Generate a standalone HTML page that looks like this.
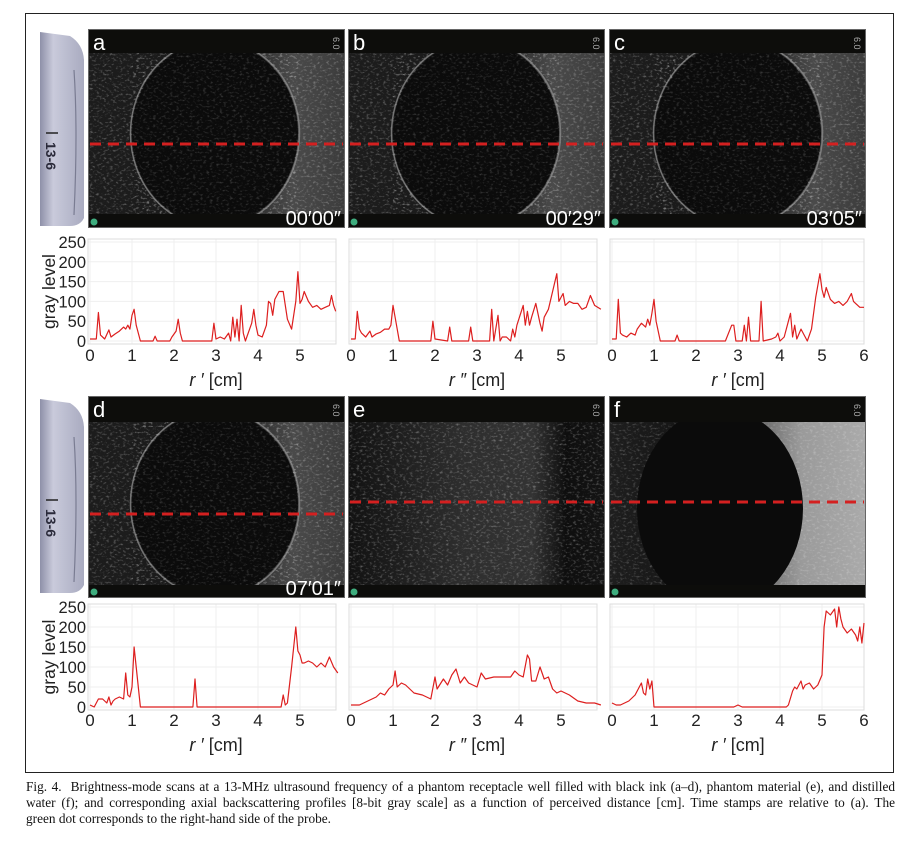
<!DOCTYPE html>
<html><head><meta charset="utf-8">
<style>
html,body{margin:0;padding:0;background:#fff;}
body{width:907px;height:841px;position:relative;overflow:hidden;font-family:"Liberation Sans",sans-serif;}
#fig{position:absolute;left:0;top:0;}
#caption{position:absolute;left:26px;top:779px;width:869px;font-family:"Liberation Serif",serif;font-size:13.3px;line-height:16px;color:#111;}
#caption .j{text-align:justify;text-align-last:justify;white-space:nowrap;}
</style></head>
<body>
<svg id="fig" width="907" height="780" xmlns="http://www.w3.org/2000/svg">
<defs>
<filter id="speck" x="0" y="0" width="100%" height="100%">
<feTurbulence type="fractalNoise" baseFrequency="0.3 0.5" numOctaves="2" seed="3"/>
<feColorMatrix type="matrix" values="0 0 0 0 1  0 0 0 0 1  0 0 0 0 1  0 0 0 3 -1.6"/>
</filter>
<linearGradient id="probeG" x1="0" x2="1"><stop offset="0" stop-color="#8e90a8"/><stop offset="0.3" stop-color="#c9cadb"/><stop offset="1" stop-color="#a9abc0"/></linearGradient>
<linearGradient id="brightR" x1="0" x2="1"><stop offset="0" stop-color="#1c1c1c"/><stop offset="0.55" stop-color="#1a1a1a"/><stop offset="0.8" stop-color="#4a4a4a"/><stop offset="1" stop-color="#3c3c3c"/></linearGradient>
<linearGradient id="brightE" x1="0" x2="1"><stop offset="0" stop-color="#121212"/><stop offset="0.45" stop-color="#2e2e2e"/><stop offset="0.72" stop-color="#333"/><stop offset="0.85" stop-color="#0e0e0e"/><stop offset="1" stop-color="#141414"/></linearGradient>
<linearGradient id="brightF" x1="0" x2="1"><stop offset="0" stop-color="#1e1e1e"/><stop offset="0.3" stop-color="#151515"/><stop offset="0.75" stop-color="#9a9a9a"/><stop offset="1" stop-color="#aaa"/></linearGradient>
</defs>
<rect x="25.5" y="13.5" width="868" height="759" fill="none" stroke="#222" stroke-width="1"/>
<g id="images"></g>
<g id="charts"></g>
</svg>
<div id="caption"><div class="j">Fig. 4.&nbsp; Brightness-mode scans at a 13-MHz ultrasound frequency of a phantom receptacle well filled with black ink (a–d), phantom material (e), and distilled</div><div class="j">water (f); and corresponding axial backscattering profiles [8-bit gray scale] as a function of perceived distance [cm]. Time stamps are relative to (a). The</div><div>green dot corresponds to the right-hand side of the probe.</div></div>
<script>
// ---- chart data (cm positions and gray levels) ----
const posA=[0,.15,.2,.25,.35,.45,.5,.6,.7,.8,.85,.9,.95,1.0,1.05,1.1,1.2,1.5,1.55,1.6,1.9,1.95,2.05,2.1,2.15,2.2,2.9,2.95,3.0,3.1,3.2,3.3,3.35,3.4,3.45,3.5,3.55,3.6,3.65,3.7,3.85,3.9,3.95,4.0,4.1,4.2,4.25,4.3,4.35,4.4,4.5,4.6,4.7,4.8,4.9,4.95,5.0,5.05,5.1,5.2,5.3,5.4,5.5,5.6,5.7,5.75,5.8,5.85];
const valA=[5,5,72,15,5,28,10,18,25,35,30,40,30,65,80,40,0,0,12,0,0,10,25,55,20,0,0,45,5,10,5,20,0,60,10,55,0,90,20,0,45,80,40,15,10,40,100,95,65,105,125,125,55,30,100,175,95,105,125,100,85,90,80,85,90,115,90,75];
const posB=[0,.1,.15,.2,.25,.35,.45,.5,.6,.7,.8,.9,.95,1.0,1.05,1.15,1.9,1.95,2.0,2.3,2.35,2.4,2.8,2.85,2.9,3.3,3.35,3.4,3.5,3.55,3.6,3.7,3.8,3.85,3.9,3.95,4.1,4.15,4.2,4.25,4.3,4.4,4.5,4.55,4.6,4.7,4.8,4.9,4.95,5.0,5.05,5.1,5.2,5.3,5.4,5.5,5.6,5.7,5.8,5.95];
const valB=[5,5,75,30,20,10,25,10,18,22,30,30,40,90,60,0,0,50,5,0,35,0,0,35,0,0,80,0,65,0,10,10,0,30,10,40,90,40,75,40,60,95,45,25,60,80,125,170,100,110,120,90,100,95,95,80,85,115,90,80];
const posC=[0,.1,.15,.2,.25,.35,.45,.55,.6,.7,.8,.85,.9,.95,1.0,1.05,1.15,1.5,1.55,1.6,2.7,2.85,2.9,2.95,3.1,3.15,3.2,3.25,3.3,3.5,3.55,3.6,3.8,3.9,3.95,4.0,4.1,4.2,4.25,4.3,4.35,4.4,4.5,4.6,4.65,4.75,4.85,4.95,5.0,5.05,5.1,5.2,5.3,5.4,5.5,5.6,5.7,5.75,5.8,5.9,6.0];
const valC=[5,5,105,20,15,10,20,15,30,45,35,55,40,70,105,50,0,0,15,0,0,40,40,0,0,40,0,60,0,0,100,0,5,10,20,0,10,50,70,10,40,5,30,10,0,30,110,170,130,110,135,105,95,100,90,100,120,100,95,85,85];
const posD=[0,.1,.2,.3,.4,.45,.5,.55,.6,.7,.8,.85,.9,.95,1.0,1.05,1.1,1.2,1.25,2.45,2.5,2.55,4.55,4.6,4.65,4.7,4.8,4.9,4.95,5.0,5.05,5.1,5.2,5.3,5.4,5.5,5.6,5.7,5.8,5.9];
const valD=[5,0,20,20,10,25,5,15,20,25,20,85,30,25,50,150,100,0,0,0,70,0,0,30,5,10,100,200,140,130,110,110,115,110,100,110,100,125,100,85];
const posE=[0,.2,.4,.6,.7,.8,.9,1.0,1.05,1.1,1.2,1.3,1.4,1.5,1.7,1.9,2.0,2.05,2.2,2.3,2.4,2.5,2.6,2.7,2.8,3.0,3.1,3.2,3.4,3.6,3.8,3.9,4.0,4.1,4.2,4.25,4.3,4.4,4.5,4.6,4.7,4.8,4.9,5.0,5.2,5.4,5.6,5.8,5.95];
const valE=[5,5,15,25,35,30,45,55,90,50,60,55,45,35,30,20,75,45,70,55,80,95,60,75,60,50,85,70,75,75,75,90,80,75,130,120,65,65,100,70,75,45,35,40,30,15,10,10,5];
const posF=[0,.1,.2,.3,.4,.5,.55,.6,.7,.75,.8,.85,.9,.95,1.0,2.9,3.0,3.1,4.15,4.2,4.3,4.35,4.4,4.5,4.55,4.6,4.7,4.8,4.9,5.0,5.05,5.1,5.15,5.2,5.3,5.35,5.4,5.45,5.5,5.6,5.7,5.8,5.85,5.9,5.95,6.0];
const valF=[10,5,5,10,15,25,30,40,60,35,30,70,45,65,0,0,5,0,0,5,40,50,45,65,45,55,60,45,55,80,200,240,235,230,245,200,250,220,200,185,195,180,165,200,160,210];
const yTicks=[0,50,100,150,200,250];
const xTicks=[0,1,2,3,4,5,6];
const panelLetters=['a','b','c','d','e','f'];
const stamps=['00′00″','00′29″','03′05″','07′01″','',''];
const xLabels=['r ′','r ″','r ′','r ′','r ″','r ′'];

const NS='http://www.w3.org/2000/svg';
function mk(tag,attrs,parent){const e=document.createElementNS(NS,tag);for(const k in attrs)e.setAttribute(k,attrs[k]);if(parent)parent.appendChild(e);return e;}

const imgX=[88,348,609];
const imgW=257;
const rows=[{top:29,h:199,bandT:24,bandB:14,dash:[144,144,144]},{top:396,h:202,bandT:26,bandB:13,dash:[514,502,502]}];
const gI=document.getElementById('images');
const defs=document.querySelector('defs');

[{y:30},{y:397}].forEach((p,i)=>{
  const g=mk('g',{},gI);
  
  
  mk('path',{d:`M40 ${p.y+2} L70 ${p.y+6} Q83 ${p.y+14} 84 ${p.y+30} L84 ${p.y+188} Q80 ${p.y+196} 70 ${p.y+196} L40 ${p.y+196} Z`,fill:'url(#probeG)'},g);
  mk('path',{d:`M74 ${p.y+40} Q78 ${p.y+100} 74 ${p.y+185}`,stroke:'#7a7c92','stroke-width':1.2,fill:'none'},g);
  mk('line',{x1:46,y1:p.y+103,x2:58,y2:p.y+103,stroke:'#222','stroke-width':1.5},g);
  const t=mk('text',{x:0,y:0,transform:`translate(46 ${p.y+112}) rotate(90)`,'font-size':14,'font-weight':'bold',fill:'#2a2a3a'},g);
  t.textContent='13-6';
});

for(let r=0;r<2;r++){
  const R=rows[r];
  for(let c=0;c<3;c++){
    const idx=r*3+c, x=imgX[c], y=R.top, w=imgW, h=R.h;
    const cp=mk('clipPath',{id:'clip'+idx},defs);
    mk('rect',{x:x,y:y,width:w,height:h},cp);
    const g=mk('g',{'clip-path':'url(#clip'+idx+')'},gI);
    
    
    mk('rect',{x:x,y:y,width:w,height:h,fill:'#0d0d0b'},g);
    const my=y+R.bandT, mh=h-R.bandT-R.bandB;
    const fillId = idx===4?'url(#brightE)':(idx===5?'url(#brightF)':'url(#brightR)');
    mk('rect',{x:x+1,y:my,width:w-2,height:mh,fill:fillId},g);
    mk('rect',{x:x+1,y:my,width:w-2,height:mh,fill:'#fff',filter:'url(#speck)',opacity:idx===5?0.25:0.3},g);
    const cxs=[215,476,738,215,0,720];
    if(idx!==4){
      const cx=cxs[idx];
      const cy=my+mh/2+(idx===5?5:0);
      const rx=83, ry=idx===5?100:92;
      if(idx!==5) mk('ellipse',{cx:cx,cy:cy,rx:rx+1.5,ry:ry+1.5,fill:'none',stroke:'#8a8a8a','stroke-width':1.5,opacity:0.8},g);
      mk('ellipse',{cx:cx,cy:cy,rx:rx,ry:ry,fill:'#0b0b0b'},g);
      if(idx!==5) mk('ellipse',{cx:cx,cy:cy,rx:rx,ry:ry,fill:'#fff',filter:'url(#speck)',opacity:0.18},g);
    }
    mk('rect',{x:x,y:y,width:w,height:R.bandT,fill:'#0d0d0b'},g);
    mk('rect',{x:x,y:y+h-R.bandB,width:w,height:R.bandB,fill:'#0d0d0b'},g);
    mk('rect',{x:x+0.5,y:y+0.5,width:w-1,height:h-1,fill:'none',stroke:'#666','stroke-width':1},g);
    const lt=mk('text',{x:x+5,y:y+21,'font-size':22,fill:'#fff'},g);
    lt.textContent=panelLetters[idx];
    
    
    const sc=mk('text',{x:0,y:0,transform:`translate(${x+w-12} ${y+8}) rotate(90)`,'font-size':9,fill:'#aaa'},g);
    sc.textContent='6.0';
    const dot=mk('circle',{cx:x+6,cy:y+h-6,r:3.5,fill:'#3fae7f'},g);
    
    
    if(stamps[idx]){
      const st=mk('text',{x:x+w-4,y:y+h-3,'font-size':20,fill:'#fff','text-anchor':'end'},g);
      st.textContent=stamps[idx];
      
      
    }
    const dl=mk('line',{x1:x+2,x2:x+w-2,y1:R.dash[c],y2:R.dash[c],stroke:'#d42020','stroke-width':3,'stroke-dasharray':'11 7'},g);
    
    
  }
}

const gC=document.getElementById('charts');
const chartPos=[posA,posB,posC,posD,posE,posF];
const chartVal=[valA,valB,valC,valD,valE,valF];
const cx0=[90,351,612];
const pxPerCm=42;
const chartRows=[{y0:341,y250:242,tickY:361,labY:386},{y0:707,y250:607,tickY:726,labY:751}];
for(let r=0;r<2;r++){
  const CR=chartRows[r];
  const yScale=v=>CR.y0-(v/250)*(CR.y0-CR.y250);
  for(let c=0;c<3;c++){
    const idx=r*3+c, x0=cx0[c];
    const xScale=v=>x0+v*pxPerCm;
    const g=mk('g',{},gC);
    
    
    const xEnd=xScale(6)-(c===2?0:6);
    yTicks.forEach(t=>{mk('line',{x1:x0-2,x2:xEnd,y1:yScale(t),y2:yScale(t),stroke:'#efefef','stroke-width':1},g);});
    xTicks.forEach(t=>{if(xScale(t)<=xEnd) mk('line',{x1:xScale(t),x2:xScale(t),y1:yScale(250)-3,y2:CR.y0+3,stroke:'#efefef','stroke-width':1},g);});
    mk('rect',{x:x0-2,y:yScale(250)-3,width:xEnd-x0+2,height:CR.y0-yScale(250)+6,fill:'none',stroke:'#dcdcdc','stroke-width':1},g);
    const P=chartPos[idx], V=chartVal[idx];
    let d='';
    for(let i=0;i<P.length;i++) d+=(i?'L':'M')+xScale(P[i]).toFixed(1)+' '+yScale(V[i]).toFixed(1);
    const path=mk('path',{d:d,fill:'none',stroke:'#dd1f1f','stroke-width':1.2,'stroke-linejoin':'round'},g);
    
    
    xTicks.forEach(t=>{
      if(t===6 && c!==2) return;
      const tx=mk('text',{x:xScale(t),y:CR.tickY,'font-size':17,'text-anchor':'middle',fill:'#222'},g);
      tx.textContent=t;
      
      
    });
    const xl=mk('text',{x:xScale(3),y:CR.labY,'font-size':18,'text-anchor':'middle',fill:'#222'},g);
    xl.innerHTML='<tspan font-style="italic">'+xLabels[idx]+'</tspan> [cm]';
    
    
    if(c===0){
      yTicks.forEach(t=>{
        const ty=mk('text',{x:x0-4,y:yScale(t)+6,'font-size':16.5,'text-anchor':'end',fill:'#222'},g);
        ty.textContent=t;
        
        
      });
      const yl=mk('text',{x:0,y:0,transform:`translate(55 ${yScale(125)}) rotate(-90)`,'font-size':17.5,'text-anchor':'middle',fill:'#222'},g);
      yl.textContent='gray level';
      
      
    }
  }
}
</script>
</body></html>
